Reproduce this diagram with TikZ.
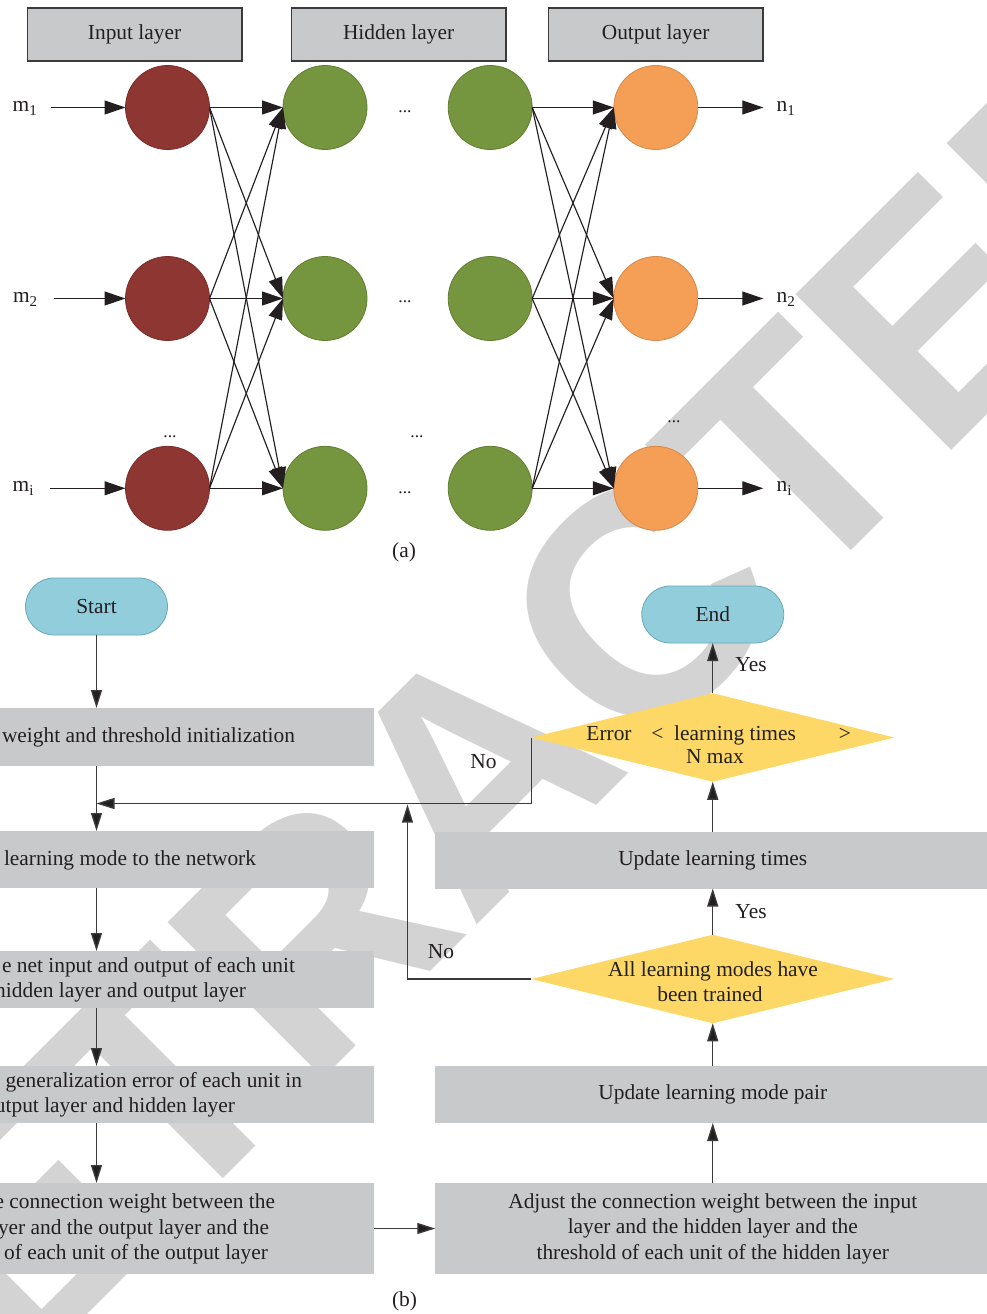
\documentclass[tikz,border=0pt]{standalone}
\usepackage{fontspec}
\setmainfont{Liberation Serif}
\newfontfamily\wmfont{Liberation Sans}
\usetikzlibrary{arrows.meta,shapes.geometric}
\definecolor{boxgray}{HTML}{C8C9CB}
\definecolor{wmgray}{HTML}{D3D3D3}
\definecolor{ink}{HTML}{231F20}
\definecolor{redc}{HTML}{8E3631}
\definecolor{redb}{HTML}{7A2B27}
\definecolor{greenc}{HTML}{76953F}
\definecolor{greenb}{HTML}{5F7E2E}
\definecolor{orangec}{HTML}{F59E55}
\definecolor{orangeb}{HTML}{D5884A}
\definecolor{bluec}{HTML}{92CDDC}
\definecolor{blueb}{HTML}{68A9B9}
\definecolor{yellowc}{HTML}{FDD866}
\definecolor{linegray}{HTML}{3A3A3A}
\newcommand{\mysub}[1]{\raisebox{-4pt}{\fontsize{15}{15}\selectfont #1}}
\begin{document}
\begin{tikzpicture}[x=1pt,y=-1pt,
  every node/.style={inner sep=0pt, outer sep=0pt, text=ink, font=\fontsize{21.4}{25.5}\selectfont},
  hdr/.style={draw=linegray, line width=1.3pt, fill=boxgray, minimum width=214.7pt, minimum height=53pt},
  neuron/.style={circle, minimum size=84pt, line width=0.8pt},
  inneuron/.style={neuron, fill=redc, draw=redb},
  hidneuron/.style={neuron, fill=greenc, draw=greenb},
  outneuron/.style={neuron, fill=orangec, draw=orangeb},
  narrow/.style={draw=ink, line width=1.15pt, -{Triangle[length=21pt,width=14pt]}},
  farrow/.style={draw=linegray, line width=1.4pt, -{Triangle[length=18pt,width=11pt,fill=ink]}},
  flowbox/.style={fill=boxgray, minimum width=555pt, align=center},
  term/.style={fill=bluec, draw=blueb, line width=0.8pt, rounded corners=28.5pt, minimum width=142pt, minimum height=57pt},
  decision/.style={diamond, fill=yellowc, minimum width=363pt, minimum height=88.5pt},
  dots/.style={font=\fontsize{17.5}{17.5}\selectfont},
  lbl/.style={anchor=base west},
  ltxt/.style={anchor=base east},
  ctxt/.style={anchor=base}
]
\useasboundingbox (0,0) rectangle (986,1314);
\fill[white] (0,0) rectangle (986,1314);

% watermark
\node[anchor=base west, rotate=45, text=wmgray, font=\wmfont\bfseries\fontsize{320}{320}\selectfont] (wm) at (-144,1546) {RETRACTED};

% ---------- (a) ----------
\node[hdr] (hin) at (134.6,34.5) {Input layer};
\node[hdr] (hhid) at (398.6,34.5) {Hidden layer};
\node[hdr] (hout) at (655.6,34.5) {Output layer};

\foreach \r/\y in {1/107.5,2/298.5,3/488.3}{
  \node[inneuron] (i\r) at (167.5,\y) {};
  \node[hidneuron] (h\r) at (325,\y) {};
  \node[hidneuron] (g\r) at (490.2,\y) {};
  \node[outneuron] (o\r) at (655.8,\y) {};
}

\node[lbl] (m1) at (12.7,111.2) {m\mysub{1}};
\node[lbl] (m2) at (13,302.2) {m\mysub{2}};
\node[lbl] (m3) at (12.7,491.8) {m\mysub{i}};
\node[lbl] (n1) at (776.7,111.2) {n\mysub{1}};
\node[lbl] (n2) at (776.7,302.2) {n\mysub{2}};
\node[lbl] (n3) at (776.7,491.8) {n\mysub{i}};

\coordinate (s1) at (51,107.5);
\coordinate (s2) at (54,298.5);
\coordinate (s3) at (50,488.3);
\coordinate (e1) at (763.3,107.5);
\coordinate (e2) at (763.3,298.5);
\coordinate (e3) at (763.3,488.3);

\foreach \r in {1,2,3}{
  \draw[narrow] (s\r) -- (i\r.west);
  \draw[narrow] (o\r.east) -- (e\r);
  \foreach \c in {1,2,3}{
    \draw[narrow] (i\r.east) -- (h\c.west);
    \draw[narrow] (g\r.east) -- (o\c.west);
  }
}

\node[dots] (d11) at (405,111.7) {...};
\node[dots] (d12) at (405,301.7) {...};
\node[dots] (d13) at (405,492.7) {...};
\node[dots] (d21) at (170,437) {...};
\node[dots] (d22) at (417,437) {...};
\node[dots] (d23) at (674,421.7) {...};

\node[ctxt] (capa) at (404,557.5) {(a)};

% ---------- (b) ----------
\node[term] (start) at (96.5,606.5) {Start};
\node[term] (end) at (712.75,614.5) {End};

\node[flowbox, minimum height=58pt] (lb1) at (96.5,737) {};
\node[flowbox, minimum height=57pt] (lb2) at (96.5,859.5) {};
\node[flowbox, minimum height=57pt] (lb3) at (96.5,979.5) {};
\node[flowbox, minimum height=57pt] (lb4) at (96.5,1094.5) {};
\node[flowbox, minimum height=91pt] (lb5) at (96.5,1228.5) {};

\node[ltxt] (t1) at (295,742) {weight and threshold initialization};
\node[ltxt] (t2) at (256,865) {learning mode to the network};
\node[ltxt] (t3a) at (295,972) {e net input and output of each unit};
\node[ltxt] (t3b) at (246,997) {hidden layer and output layer};
\node[ltxt] (t4a) at (302,1087) {generalization error of each unit in};
\node[ltxt] (t4b) at (235,1112) {utput layer and hidden layer};
\node[ltxt] (t5a) at (275,1208) {e connection weight between the};
\node[ltxt] (t5b) at (269,1234) {yer and the output layer and the};
\node[ltxt] (t5c) at (268,1259) {of each unit of the output layer};

\node[flowbox, minimum height=91pt] (rb1) at (712.75,1228.5) {Adjust the connection weight between the input\\layer and the hidden layer and the\\threshold of each unit of the hidden layer};
\node[flowbox, minimum height=57pt] (rb2) at (712.75,1094.5) {Update learning mode pair};
\node[flowbox, minimum height=57pt] (rb3) at (712.75,860) {Update learning times};

\node[decision] (d1) at (712.75,737.5) {};
\node[decision] (d2) at (712.75,979) {};

\node[ctxt] (d1a) at (609,740) {Error};
\node[ctxt] (d1b) at (657.5,740) {<};
\node[ctxt] (d1c) at (735,740) {learning times};
\node[ctxt] (d1d) at (845,740) {>};
\node[ctxt] (d1e) at (715,763) {N max};
\node[ctxt] (d2a) at (713,976) {All learning modes have};
\node[ctxt] (d2b) at (710,1001) {been trained};

\node[ctxt] (yes1) at (751,671) {Yes};
\node[ctxt] (yes2) at (751,918) {Yes};
\node[ctxt] (no1) at (483.5,768) {No};
\node[ctxt] (no2) at (441,958) {No};

\coordinate (merge) at (96.5,803.5);
\coordinate (fb) at (407.5,804.5);

\draw[farrow] (start) -- (lb1);
\draw[farrow] (lb1) -- (lb2);
\draw[farrow] (lb2) -- (lb3);
\draw[farrow] (lb3) -- (lb4);
\draw[farrow] (lb4) -- (lb5);
\draw[farrow] (lb5) -- (rb1);
\draw[farrow] (rb1) -- (rb2);
\draw[farrow] (rb2) -- (d2);
\draw[farrow] (d2) -- (rb3);
\draw[farrow] (rb3) -- (d1);
\draw[farrow] (d1) -- (end);
\draw[farrow] (d1.west) |- (merge);
\draw[farrow] (d2.west) -| (fb);

\node[ctxt] (capb) at (404.5,1306.5) {(b)};
\end{tikzpicture}
\end{document}
